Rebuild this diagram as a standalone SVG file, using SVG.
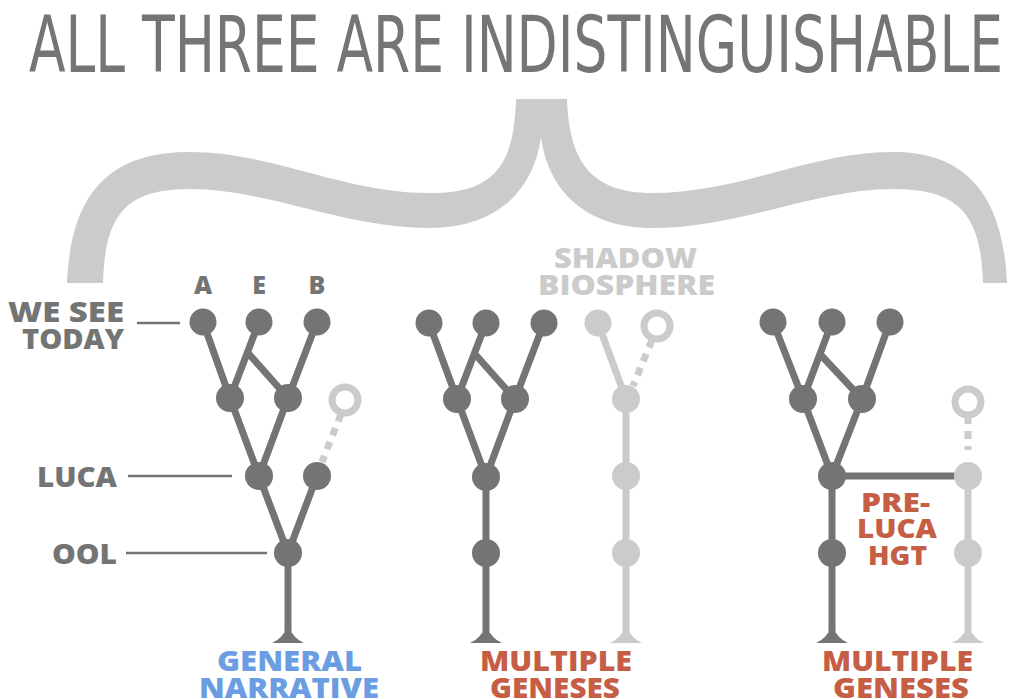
<svg xmlns="http://www.w3.org/2000/svg" width="1011" height="699" viewBox="0 0 1011 699">
<style>
.dk{fill:#737574}
.lt{fill:#cbcbcb}
.e{stroke:#737574;stroke-width:7;fill:none}
.el{stroke:#cbcbcb;stroke-width:7;fill:none}
.dash{stroke:#cbcbcb;stroke-width:7;fill:none;stroke-dasharray:8 7}
.ring{stroke:#cbcbcb;stroke-width:7;fill:#fff}
.lbl{font-family:"Open Sans","Liberation Sans",sans-serif;font-weight:800;font-size:28px}
.gr{fill:#737574}
.lg{fill:#cbcbcb}
.rd{fill:#c55e44}
.bl{fill:#6b9de3}
.ln{stroke:#737574;stroke-width:2.5}
</style>
<rect width="1011" height="699" fill="#fff"/>
<text x="29" y="72" textLength="974" lengthAdjust="spacingAndGlyphs" font-family="DejaVu Sans" font-stretch="condensed" font-size="79" fill="#757575">ALL THREE ARE INDISTINGUISHABLE</text>
<g id="brace">
<path fill="#cbcbcb" d="M516,99 L567,99 C569,160 590,193 652,193 C740,193 810,152 893,152 C962,152 1003,190 1007,283 L983,283 C981,215 960,189 893,189 C815,189 740,228 652,228 C585,228 548,190 541,137 C534,190 497,228 430,228 C342,228 267,189 190,189 C125,189 105,215 103,283 L67,283 C71,190 112,152 190,152 C273,152 343,193 430,193 C495,193 514,165 516,99 Z"/>
</g>
<g id="connectors">
<g id="tree1-edges">
<path class="e" d="M203,322 L230,398 M259,322 L230,398 M247,352 L288,398 M317,322 L288,398 M230,398 L259,476 M288,398 L259,476 M259,476 L288,553 M317,476 L288,553 M288,553 L288,632"/>
<path class="dash" d="M341,414 L322,462"/>
</g>
<g id="tree2-edges">
<path class="e" d="M429,323 L457,399 M486,323 L457,399 M474,353 L515,399 M544,323 L515,399 M457,399 L486,477 M515,399 L486,477 M486,477 L486,632"/>
<path class="el" d="M598,323 L626,399 L626,632"/>
<path class="dash" d="M652,340 L633,386"/>
</g>
<g id="tree3-edges">
<path class="e" d="M773,322 L803,399 M832,322 L803,399 M819,353 L862,399 M890,322 L862,399 M803,399 L832,476 M862,399 L832,476 M832,476 L832,632 M832,476 L968,476"/>
<path class="el" d="M968,476 L968,632"/>
<path class="dash" d="M968,416 L968,450"/>
</g>
<g id="label-lines">
<line class="ln" x1="137" y1="323" x2="180" y2="323"/>
<line class="ln" x1="128" y1="476" x2="232" y2="476"/>
<line class="ln" x1="126" y1="553" x2="267" y2="553"/>
</g>
</g>
<g id="tree1-nodes">
<circle id="n-A" class="dk" cx="203" cy="322" r="13.5"/>
<circle id="n-E" class="dk" cx="259" cy="322" r="13.5"/>
<circle id="n-B" class="dk" cx="317" cy="322" r="13.5"/>
<circle id="n-ml1" class="dk" cx="230" cy="398" r="14"/>
<circle id="n-mr1" class="dk" cx="288" cy="398" r="14"/>
<circle id="n-luca1" class="dk" cx="259" cy="476" r="14"/>
<circle id="n-x1" class="dk" cx="317" cy="476" r="14"/>
<circle id="n-ool1" class="dk" cx="288" cy="553" r="14"/>
<circle id="n-h1" class="ring" cx="345" cy="400" r="13"/>
<path id="root1" class="dk" d="M272,643 Q282,639 288,626 Q294,639 304,643 Z"/>
</g>
<g id="tree2-nodes">
<circle id="n-a2" class="dk" cx="429" cy="323" r="13.5"/>
<circle id="n-e2" class="dk" cx="486" cy="323" r="13.5"/>
<circle id="n-b2" class="dk" cx="544" cy="323" r="13.5"/>
<circle id="n-ml2" class="dk" cx="457" cy="399" r="14"/>
<circle id="n-mr2" class="dk" cx="515" cy="399" r="14"/>
<circle id="n-luca2" class="dk" cx="486" cy="477" r="14"/>
<circle id="n-ool2" class="dk" cx="486" cy="553" r="14"/>
<path id="root2" class="dk" d="M470,643 Q480,639 486,626 Q492,639 502,643 Z"/>
<circle id="n-s1" class="lt" cx="598" cy="323" r="13.5"/>
<circle id="n-sh" class="ring" cx="657" cy="326" r="13"/>
<circle id="n-s2" class="lt" cx="626" cy="399" r="14"/>
<circle id="n-s3" class="lt" cx="626" cy="476" r="14"/>
<circle id="n-s4" class="lt" cx="626" cy="553" r="14"/>
<path id="root2s" class="lt" d="M610,643 Q620,639 626,626 Q632,639 642,643 Z"/>
</g>
<g id="tree3-nodes">
<circle id="n-a3" class="dk" cx="773" cy="322" r="13.5"/>
<circle id="n-e3" class="dk" cx="832" cy="322" r="13.5"/>
<circle id="n-b3" class="dk" cx="890" cy="322" r="13.5"/>
<circle id="n-ml3" class="dk" cx="803" cy="399" r="14"/>
<circle id="n-mr3" class="dk" cx="862" cy="399" r="14"/>
<circle id="n-luca3" class="dk" cx="832" cy="476" r="14"/>
<circle id="n-ool3" class="dk" cx="832" cy="553" r="14"/>
<path id="root3" class="dk" d="M816,643 Q826,639 832,626 Q838,639 848,643 Z"/>
<circle id="n-h3" class="ring" cx="968" cy="402" r="13"/>
<circle id="n-l3a" class="lt" cx="968" cy="476" r="14"/>
<circle id="n-l3b" class="lt" cx="968" cy="553" r="14"/>
<path id="root3s" class="lt" d="M952,643 Q962,639 968,626 Q974,639 984,643 Z"/>
</g>
<g id="labels" class="lbl">
<text class="gr" x="203" y="294" text-anchor="middle" font-size="25">A</text>
<text class="gr" x="259" y="294" text-anchor="middle" font-size="25">E</text>
<text class="gr" x="317" y="294" text-anchor="middle" font-size="25">B</text>
<text class="gr" x="8" y="322" textLength="116" lengthAdjust="spacingAndGlyphs">WE SEE</text>
<text class="gr" x="22" y="349" textLength="102" lengthAdjust="spacingAndGlyphs">TODAY</text>
<text class="gr" x="37" y="487" textLength="80" lengthAdjust="spacingAndGlyphs">LUCA</text>
<text class="gr" x="52" y="564" textLength="65" lengthAdjust="spacingAndGlyphs">OOL</text>
<text class="lg" x="554" y="268" textLength="143" lengthAdjust="spacingAndGlyphs">SHADOW</text>
<text class="lg" x="538" y="295" textLength="177" lengthAdjust="spacingAndGlyphs">BIOSPHERE</text>
<text class="rd" x="861" y="512" font-size="27" textLength="69" lengthAdjust="spacingAndGlyphs">PRE-</text>
<text class="rd" x="857" y="538" font-size="27" textLength="80" lengthAdjust="spacingAndGlyphs">LUCA</text>
<text class="rd" x="868" y="565" font-size="27" textLength="59" lengthAdjust="spacingAndGlyphs">HGT</text>
<text class="bl" x="217" y="671" textLength="145" lengthAdjust="spacingAndGlyphs">GENERAL</text>
<text class="bl" x="199" y="698" textLength="180" lengthAdjust="spacingAndGlyphs">NARRATIVE</text>
<text class="rd" x="480" y="671" textLength="152" lengthAdjust="spacingAndGlyphs">MULTIPLE</text>
<text class="rd" x="490" y="698" textLength="130" lengthAdjust="spacingAndGlyphs">GENESES</text>
<text class="rd" x="822" y="671" textLength="151" lengthAdjust="spacingAndGlyphs">MULTIPLE</text>
<text class="rd" x="833" y="698" textLength="136" lengthAdjust="spacingAndGlyphs">GENESES</text>
</g>
</svg>
